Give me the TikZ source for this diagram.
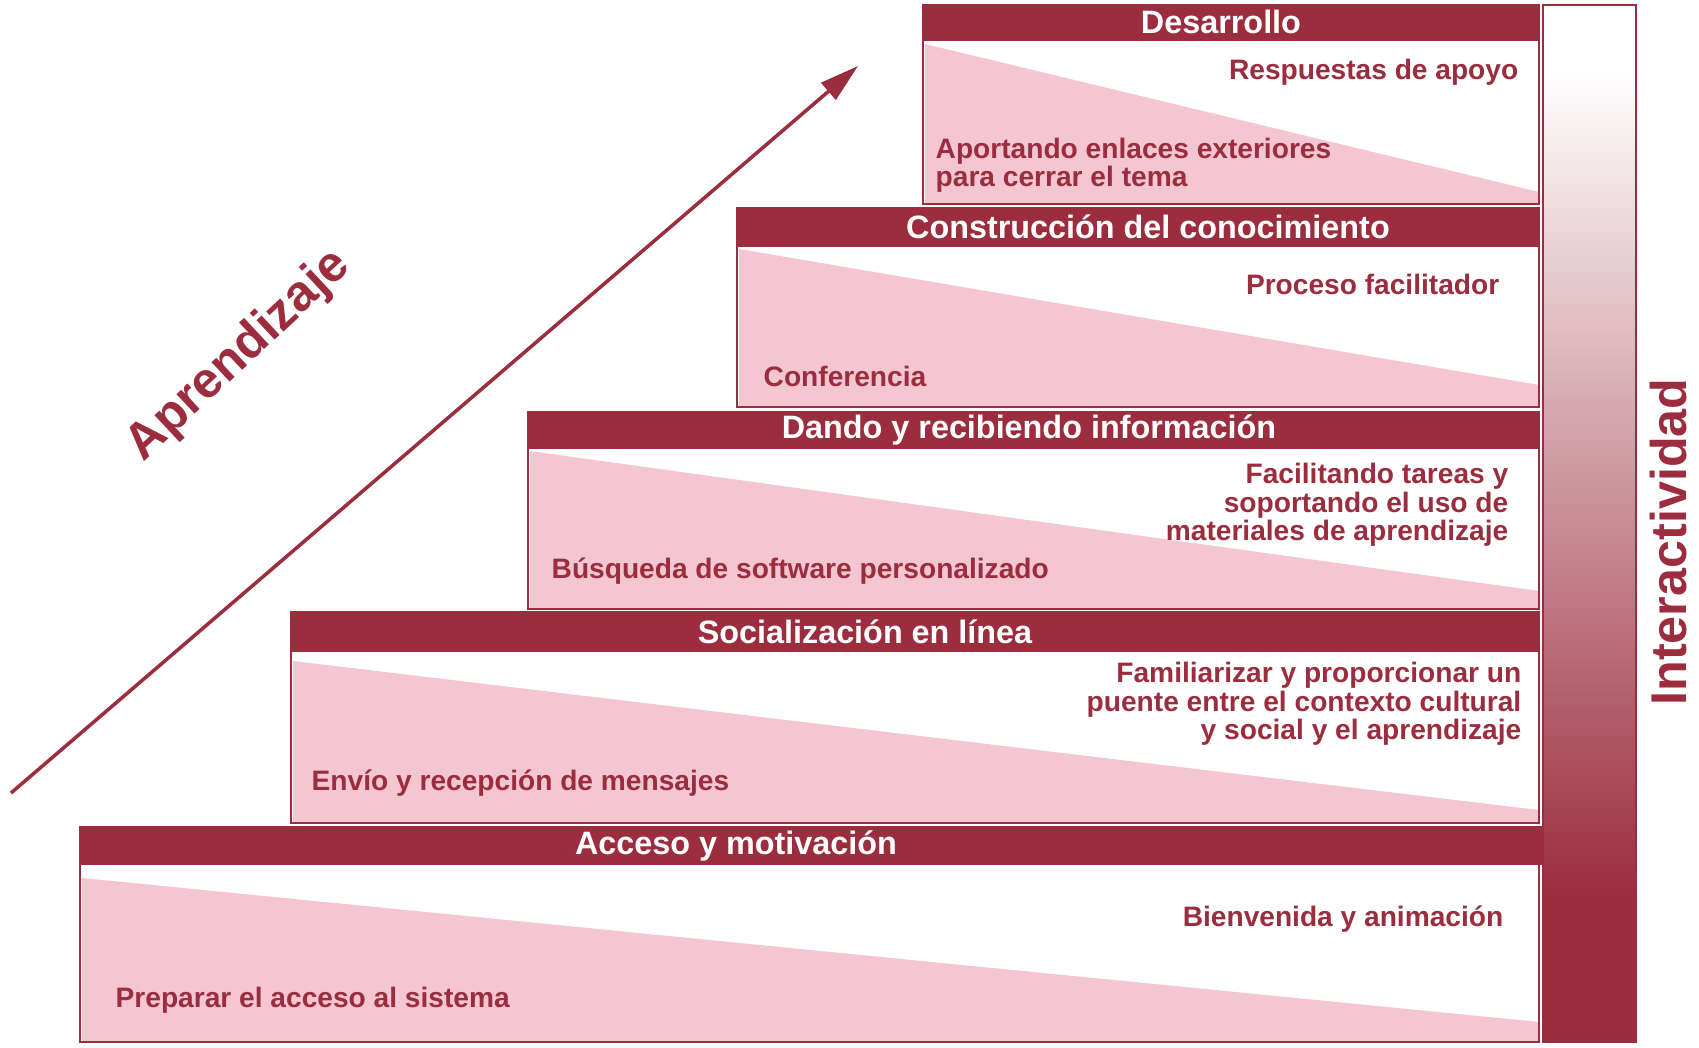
\documentclass[tikz,border=0pt]{standalone}
\usepackage{fontspec}
\setmainfont{Liberation Sans}
\usetikzlibrary{arrows.meta}

\definecolor{vino}{RGB}{155,45,63}
\definecolor{rosa}{RGB}{243,198,210}
\pgfdeclareverticalshading{intershade}{100bp}{color(0bp)=(vino); color(32bp)=(vino); color(72bp)=(white); color(100bp)=(white)}

\begin{document}
\begin{tikzpicture}[x=0.01cm, y=-0.01cm,
    every node/.style={inner sep=0pt},
    titulo/.style={text=white, font=\bfseries\fontsize{9.2}{10}\selectfont},
    nota/.style={text=vino, font=\bfseries\fontsize{8}{8.1}\selectfont},
    grande/.style={text=vino, font=\bfseries\fontsize{14.3}{15}\selectfont},
    caja/.style={fill=white},
    borde/.style={draw=vino, line width=0.6pt},
    cuna/.style={fill=rosa},
    banda/.style={fill=vino, draw=vino, line width=0.6pt}]
\useasboundingbox (0,0) rectangle (1699,1048);

% escalones, de arriba abajo
\fill[caja] (923,5) rectangle (1539,204);
\fill[cuna] (925,44) -- (1539,192) -- (1539,204) -- (925,204) -- cycle;
\draw[borde] (923,5) rectangle (1539,204);
\draw[banda] (923,5) rectangle (1539,40);

\fill[caja] (737,208) rectangle (1539,407);
\fill[cuna] (739,249) -- (1539,385) -- (1539,407) -- (739,407) -- cycle;
\draw[borde] (737,208) rectangle (1539,407);
\draw[banda] (737,208) rectangle (1539,246);

\fill[caja] (528,412) rectangle (1539,609);
\fill[cuna] (530,451) -- (1539,591) -- (1539,609) -- (530,609) -- cycle;
\draw[borde] (528,412) rectangle (1539,609);
\draw[banda] (528,412) rectangle (1539,448);

\fill[caja] (291,612) rectangle (1539,823);
\fill[cuna] (293,661) -- (1539,810) -- (1539,823) -- (293,823) -- cycle;
\draw[borde] (291,612) rectangle (1539,823);
\draw[banda] (291,612) rectangle (1539,651);

\fill[caja] (80,827) rectangle (1539,1042);
\fill[cuna] (82,878) -- (1539,1022) -- (1539,1042) -- (82,1042) -- cycle;
\draw[borde] (80,827) rectangle (1539,1042);
\draw[banda] (80,827) rectangle (1541,864);

% barra de interactividad
\draw[borde, shading=intershade] (1543,5) rectangle (1636,1042);

% titulos
\node[titulo] (tdes) at (1221,22) {Desarrollo};
\node[titulo] (tcon) at (1148,227) {Construcción del conocimiento};
\node[titulo] (tdan) at (1029,430) {Dando y recibiendo información};
\node[titulo] (tsoc) at (865,632) {Socialización en línea};
\node[titulo] (tacc) at (736,846) {Acceso y motivación};

% textos
\node[nota, anchor=east] (ndes1) at (1519,72) {Respuestas de apoyo};
\node[nota, anchor=west, align=left] (ndes2) at (935,165) {Aportando enlaces exteriores\\para cerrar el tema};
\node[nota, anchor=east] (ncon1) at (1500,284) {Proceso facilitador};
\node[nota, anchor=west] (ncon2) at (763,376) {Conferencia};
\node[nota, anchor=east, align=right] (ndan1) at (1509,505) {Facilitando tareas y\\soportando el uso de\\materiales de aprendizaje};
\node[nota, anchor=west] (ndan2) at (551,571) {Búsqueda de software personalizado};
\node[nota, anchor=east, align=right] (nsoc1) at (1522,704) {Familiarizar y proporcionar un\\puente entre el contexto cultural\\y social y el aprendizaje};
\node[nota, anchor=west] (nsoc2) at (311,783) {Envío y recepción de mensajes};
\node[nota, anchor=east] (nacc1) at (1504,919) {Bienvenida y animación};
\node[nota, anchor=west] (nacc2) at (115,1000) {Preparar el acceso al sistema};

% ejes
\node[grande, rotate=90] (inter) at (1669,542) {Interactividad};
\node[grande, rotate=43] (apren) at (239,356) {Aprendizaje};
\coordinate (inicio) at (11,793);
\coordinate (punta) at (858,66);
\draw[vino, line width=1pt, -{Triangle[length=0.39cm, width=0.22cm]}] (inicio) -- (punta);
\end{tikzpicture}
\end{document}
